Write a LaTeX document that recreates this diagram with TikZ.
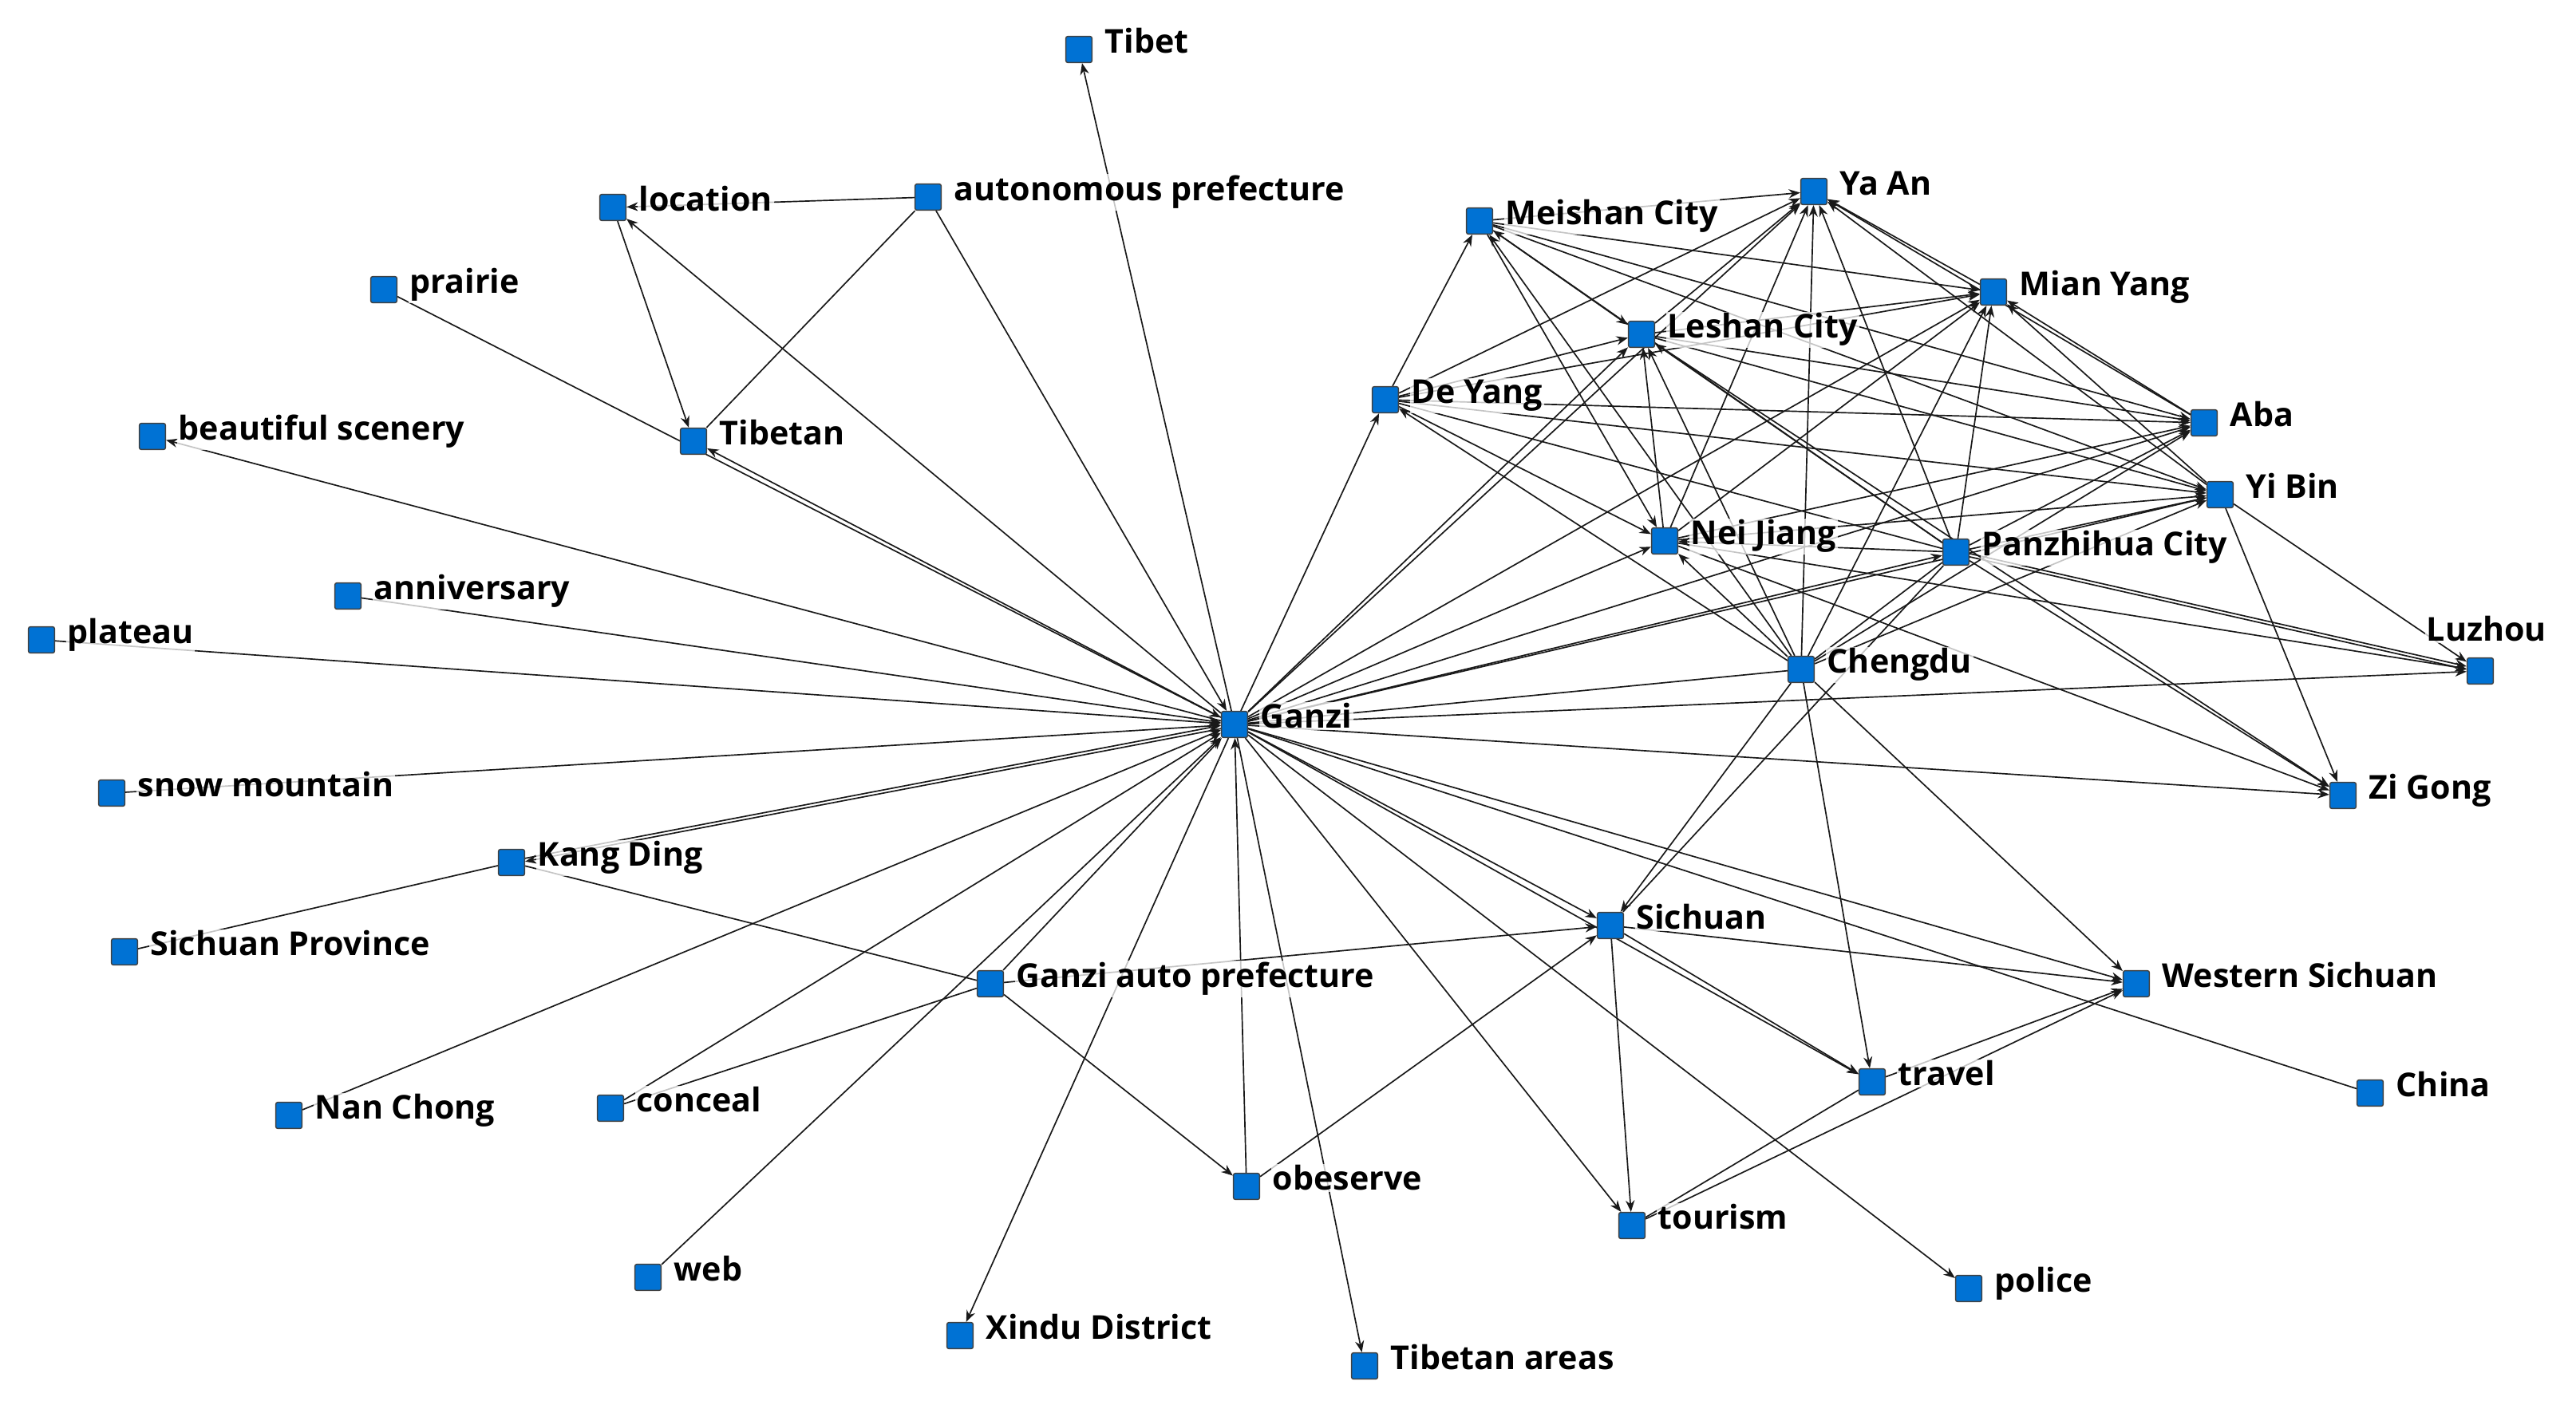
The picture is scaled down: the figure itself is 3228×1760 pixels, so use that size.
\documentclass[tikz,border=0pt]{standalone}
\usepackage{fontspec}
\setmainfont{Open Sans}
\usetikzlibrary{arrows.meta,backgrounds}
\definecolor{nodeblue}{RGB}{0,114,212}
\newcommand\mknode[4]{%
  \node[sq] (#1) at (#2,#3) {};
  \node[lbl] (#1-l) at ([xshift=3.2pt,yshift=-1.2pt]#1.east) {#4};}
\begin{document}
\begin{tikzpicture}[x=0.25pt,y=-0.25pt,
  sq/.style={draw=black!75,line width=0.35pt,fill=nodeblue,minimum size=8.2pt,inner sep=0pt,rounded corners=0.6pt},
  lbl/.style={anchor=base west,inner sep=0.5pt,font=\fontsize{10.3}{12}\selectfont\bfseries,fill=white,fill opacity=0.75,text opacity=1},
  ed/.style={line width=0.42pt,draw=black!90},
  ar/.style={ed,-{Stealth[length=3.6pt,width=2.8pt]}}]
\useasboundingbox (0,0) rectangle (3228,1760);

% ---- nodes ----
\mknode{tibet}{1352}{62}{Tibet}
\mknode{autopref}{1163}{247}{autonomous prefecture}
\mknode{location}{768}{260}{location}
\mknode{prairie}{481}{363}{prairie}
\mknode{beautiful}{191}{547}{beautiful scenery}
\mknode{tibetan}{869}{553}{Tibetan}
\mknode{anniversary}{436}{747}{anniversary}
\mknode{plateau}{52}{802}{plateau}
\mknode{ganzi}{1547}{908}{Ganzi}
\mknode{snow}{140}{994}{snow mountain}
\mknode{kangding}{641}{1081}{Kang Ding}
\mknode{sichuanprov}{156}{1193}{Sichuan Province}
\mknode{gap}{1241}{1233}{Ganzi auto prefecture}
\mknode{nanchong}{362}{1398}{Nan Chong}
\mknode{conceal}{765}{1389}{conceal}
\mknode{obeserve}{1562}{1487}{obeserve}
\mknode{web}{812}{1601}{web}
\mknode{xindu}{1203}{1674}{Xindu District}
\mknode{tibareas}{1710}{1712}{Tibetan areas}
\mknode{sichuan}{2018}{1160}{Sichuan}
\mknode{tourism}{2045}{1536}{tourism}
\mknode{police}{2467}{1615}{police}
\mknode{travel}{2346}{1356}{travel}
\mknode{westsc}{2677}{1233}{Western Sichuan}
\mknode{china}{2970}{1370}{China}
\mknode{zigong}{2936}{997}{Zi Gong}
\node[sq] (luzhou) at (3108,841) {};
\node[lbl,anchor=base] (luzhou-l) at ([xshift=2pt,yshift=5pt]luzhou.north) {Luzhou};
\mknode{chengdu}{2257}{839}{Chengdu}
\mknode{panzhihua}{2451}{692}{Panzhihua City}
\mknode{neijiang}{2086}{678}{Nei Jiang}
\mknode{yibin}{2782}{620}{Yi Bin}
\mknode{aba}{2762}{530}{Aba}
\mknode{deyang}{1736}{501}{De Yang}
\mknode{leshan}{2057}{419}{Leshan City}
\mknode{meishan}{1854}{277}{Meishan City}
\mknode{yaan}{2273}{240}{Ya An}
\mknode{mianyang}{2498}{366}{Mian Yang}

% ---- edges ----
\begin{scope}[on background layer]
% upper left
\draw[ar] (ganzi) -- (tibet);
\draw[ar] (autopref) -- (ganzi);
\draw[ar] (ganzi) -- (location);
\draw[ar] (autopref) -- (location);
\draw[ed] (autopref) -- (tibetan);
\draw[ar] (location) -- (tibetan);
\draw[ar] (ganzi) -- (tibetan);
\draw[ar] (prairie) -- (ganzi);
\draw[ar] (ganzi) -- (beautiful);
\draw[ar] (anniversary) -- (ganzi);
\draw[ar] (plateau) -- (ganzi);
\draw[ar] (snow) -- (ganzi);
\draw[ar,transform canvas={yshift=0.5pt}] (kangding) -- (ganzi);
\draw[ar,transform canvas={yshift=-0.5pt}] (ganzi) -- (kangding);
\draw[ed] (kangding) -- (sichuanprov);
\draw[ed] (kangding) -- (gap);
\draw[ar] (nanchong) -- (ganzi);
\draw[ar] (conceal) -- (ganzi);
\draw[ed] (conceal) -- (gap);
\draw[ar] (web) -- (ganzi);
\draw[ar] (gap) -- (ganzi);
\draw[ar] (ganzi) -- (xindu);
\draw[ar] (ganzi) -- (tibareas);
\draw[ar] (obeserve) -- (ganzi);
\draw[ar] (gap) -- (obeserve);
\draw[ar] (gap) -- (sichuan);
\draw[ar] (obeserve) -- (sichuan);
% Ganzi to the right
\draw[ar] (ganzi) -- (sichuan);
\draw[ar] (ganzi) -- (travel);
\draw[ar] (ganzi) -- (tourism);
\draw[ar] (ganzi) -- (police);
\draw[ar] (ganzi) -- (westsc);
\draw[ed] (ganzi) -- (china);
\draw[ar] (ganzi) -- (zigong);
\draw[ar] (ganzi) -- (luzhou);
\draw[ed] (ganzi) -- (chengdu);
\draw[ar] (ganzi) -- (panzhihua);
\draw[ar] (ganzi) -- (yibin);
\draw[ar] (ganzi) -- (aba);
\draw[ar] (ganzi) -- (neijiang);
\draw[ar] (ganzi) -- (mianyang);
\draw[ar] (ganzi) -- (leshan);
\draw[ar] (ganzi) -- (yaan);
\draw[ar] (ganzi) -- (deyang);
% Sichuan group
\draw[ar] (sichuan) -- (travel);
\draw[ar] (sichuan) -- (tourism);
\draw[ar] (sichuan) -- (westsc);
\draw[ar] (chengdu) -- (sichuan);
\draw[ed] (sichuan) -- (panzhihua);
\draw[ar] (chengdu) -- (travel);
\draw[ar] (chengdu) -- (westsc);
\draw[ar] (travel) -- (westsc);
\draw[ed] (tourism) -- (travel);
\draw[ar] (tourism) -- (westsc);
% city cluster
\draw[ar] (deyang) -- (meishan);
\draw[ar] (meishan) -- (yaan);
\draw[ar] (meishan) -- (leshan);
\draw[ar] (meishan) -- (mianyang);
\draw[ar] (meishan) -- (aba);
\draw[ar] (meishan) -- (neijiang);
\draw[ar] (meishan) -- (yibin);
\draw[ar] (deyang) -- (leshan);
\draw[ar] (deyang) -- (yaan);
\draw[ar] (deyang) -- (mianyang);
\draw[ar] (deyang) -- (aba);
\draw[ar] (deyang) -- (yibin);
\draw[ar] (deyang) -- (neijiang);
\draw[ed] (deyang) -- (panzhihua);
\draw[ar] (leshan) -- (mianyang);
\draw[ar] (leshan) -- (aba);
\draw[ar] (leshan) -- (yibin);
\draw[ar] (neijiang) -- (leshan);
\draw[ar] (leshan) -- (yaan);
\draw[ar] (leshan) -- (zigong);
\draw[ar] (neijiang) -- (yaan);
\draw[ar] (neijiang) -- (mianyang);
\draw[ar] (neijiang) -- (aba);
\draw[ar] (neijiang) -- (yibin);
\draw[ar] (neijiang) -- (luzhou);
\draw[ar] (neijiang) -- (zigong);
\draw[ar] (panzhihua) -- (yaan);
\draw[ar] (panzhihua) -- (mianyang);
\draw[ar] (panzhihua) -- (aba);
\draw[ar] (panzhihua) -- (yibin);
\draw[ar] (panzhihua) -- (neijiang);
\draw[ar] (panzhihua) -- (leshan);
\draw[ar] (panzhihua) -- (meishan);
\draw[ar,transform canvas={yshift=0.5pt}] (panzhihua) -- (luzhou);
\draw[ar,transform canvas={yshift=-0.5pt}] (panzhihua) -- (luzhou);
\draw[ar] (panzhihua) -- (zigong);
\draw[ar] (yibin) -- (mianyang);
\draw[ar] (yibin) -- (luzhou);
\draw[ar] (yibin) -- (zigong);
\draw[ar] (yibin) -- (yaan);
\draw[ar] (aba) -- (mianyang);
\draw[ar] (aba) -- (yaan);
\draw[ar] (mianyang) -- (yaan);
\draw[ar] (chengdu) -- (yaan);
\draw[ar] (chengdu) -- (mianyang);
\draw[ar] (chengdu) -- (aba);
\draw[ar] (chengdu) -- (yibin);
\draw[ar] (chengdu) -- (neijiang);
\draw[ar] (chengdu) -- (leshan);
\draw[ar] (chengdu) -- (meishan);
\draw[ar] (chengdu) -- (deyang);
\draw[ed] (chengdu) -- (panzhihua);
\end{scope}
\end{tikzpicture}
\end{document}
